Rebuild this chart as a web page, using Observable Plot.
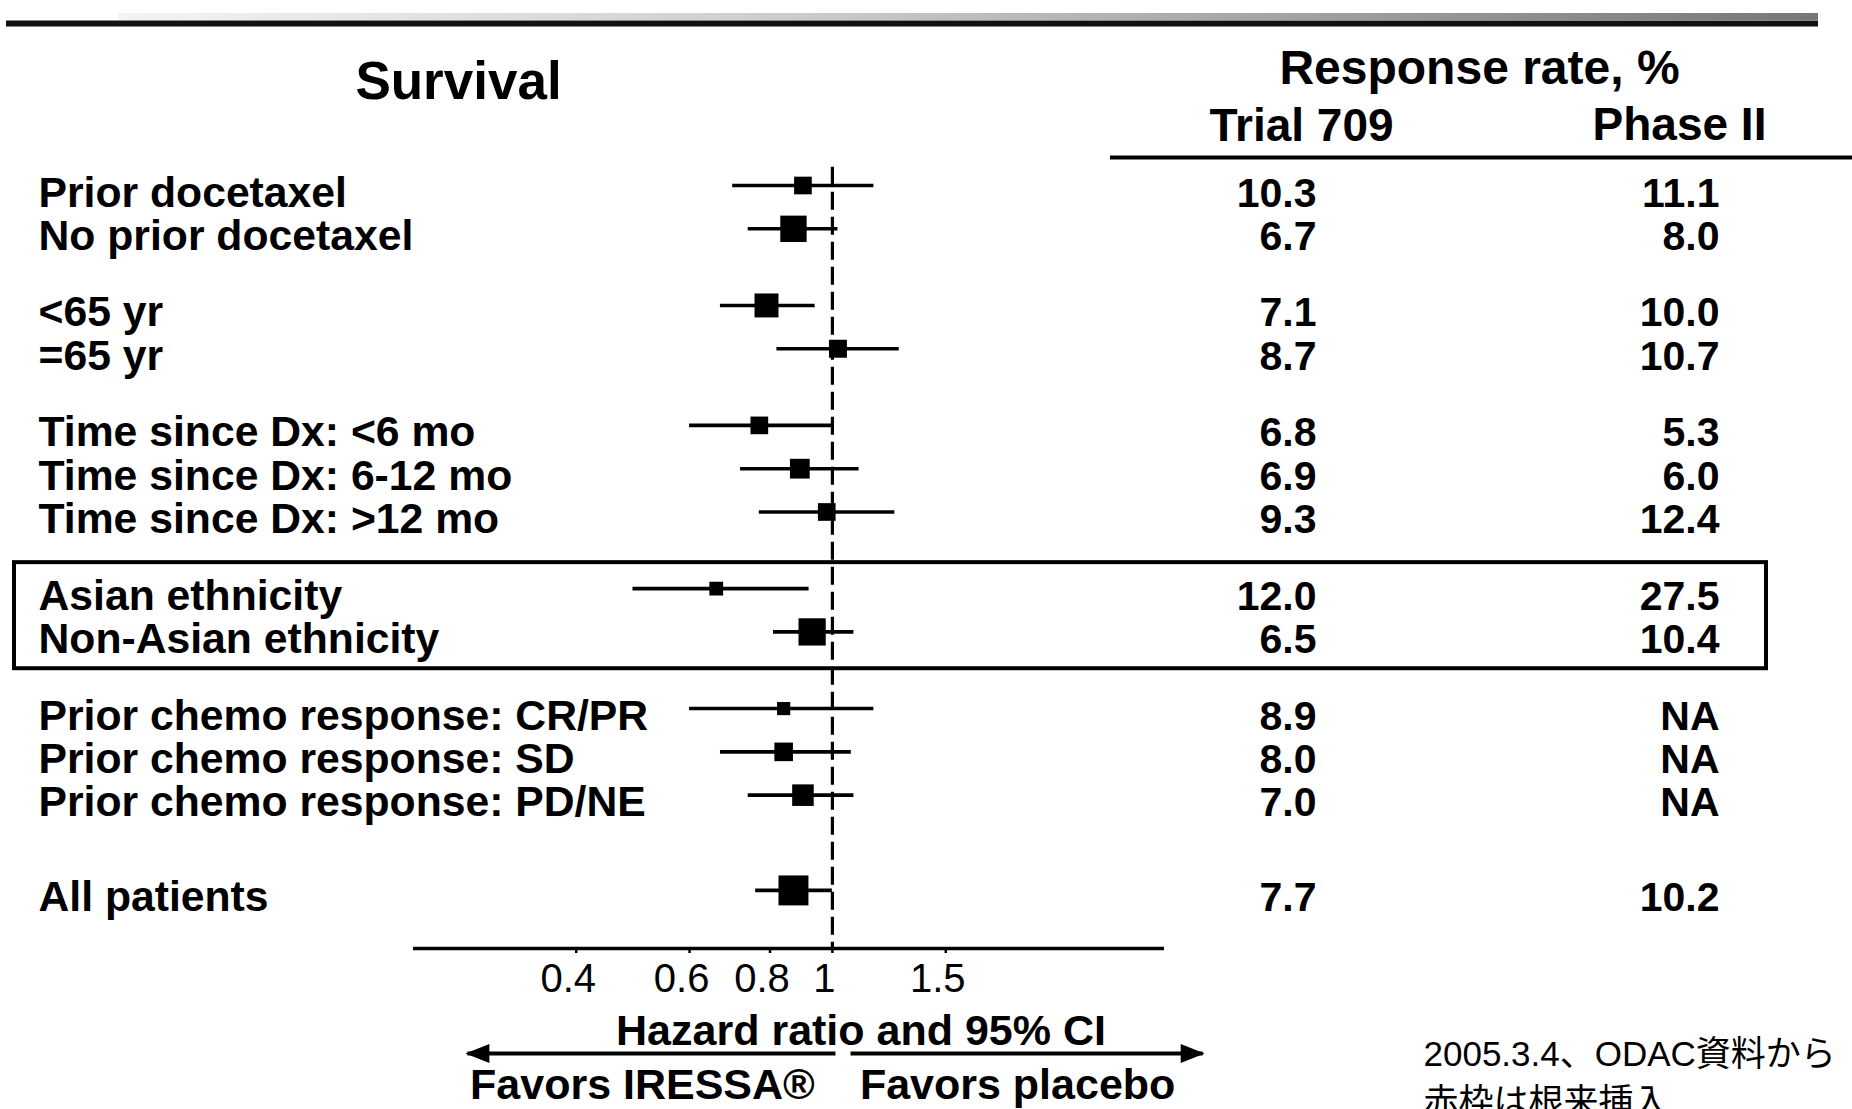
<!DOCTYPE html>
<html>
<head>
<meta charset="utf-8">
<script src="https://cdn.jsdelivr.net/npm/d3@7"></script>
<script src="https://cdn.jsdelivr.net/npm/@observablehq/plot@0.6"></script>
<style>
  html, body { margin: 0; padding: 0; background: #fff; overflow: hidden; }
  #chart { position: relative; width: 1852px; height: 1109px; }
  #chart svg { position: absolute; left: 0; top: 0; max-width: none; }
</style>
</head>
<body>
<div id="chart"></div>
<script>
// ---------------- data ----------------
const labels = [
  "Prior docetaxel", "No prior docetaxel",
  "<65 yr", "=65 yr",
  "Time since Dx: <6 mo", "Time since Dx: 6-12 mo", "Time since Dx: >12 mo",
  "Asian ethnicity", "Non-Asian ethnicity",
  "Prior chemo response: CR/PR", "Prior chemo response: SD", "Prior chemo response: PD/NE",
  "All patients"
];
const groups = ["docetaxel", "docetaxel", "age", "age", "time", "time", "time",
  "ethnicity", "ethnicity", "chemo", "chemo", "chemo", "all"];
const hazardRatio = [0.90, 0.87, 0.79, 1.02, 0.77, 0.89, 0.98, 0.66, 0.93, 0.84, 0.84, 0.90, 0.87];
const ciLower     = [0.70, 0.74, 0.67, 0.82, 0.60, 0.72, 0.77, 0.49, 0.81, 0.60, 0.67, 0.74, 0.76];
const ciUpper     = [1.16, 1.02, 0.94, 1.27, 1.00, 1.10, 1.25, 0.92, 1.08, 1.16, 1.07, 1.08, 1.00];
const boxWeight   = [59, 88, 80, 60, 59, 66, 59, 46, 91, 44, 62, 72, 100];
const trial709    = [10.3, 6.7, 7.1, 8.7, 6.8, 6.9, 9.3, 12.0, 6.5, 8.9, 8.0, 7.0, 7.7];
const phaseII     = [11.1, 8.0, 10.0, 10.7, 5.3, 6.0, 12.4, 27.5, 10.4, null, null, null, 10.2];
const highlightGroup = "ethnicity";
const columns = ["Trial 709", "Phase II"];
const xTicks = [0.4, 0.6, 0.8, 1, 1.5];
const xTickLabels = ["0.4", "0.6", "0.8", "1", "1.5"];
const favors = [
  {label: "Favors IRESSA\u00AE", from: 1.011, to: 0.271},
  {label: "Favors placebo", from: 1.067, to: 3.76}
];
const titleLeft = "Survival";
const titleRight = "Response rate, %";
const axisTitle = "Hazard ratio and 95% CI";
const note = "2005.3.4\u3001ODAC\u8CC7\u6599\u304B\u3089\n\u8D64\u67A0\u306F\u6839\u6765\u633F\u5165";

// ---------------- layout ----------------
const W = 1852, H = 1109;
const ROW0 = 185, STEP = 43.3, GROUP_GAP = 0.77, LAST_GAP = 1.2;
const FRAME_L = 413, FRAME_R = 1164, AXIS_Y = 948;
const FONT = "'Liberation Sans', Arial, Helvetica, sans-serif";
const pxToSlot = px => (px - ROW0) / STEP;
const yScale = {domain: [pxToSlot(0), pxToSlot(H)], range: [0, H], axis: null};

let s = -1;
const rows = labels.map((label, i) => {
  s += 1;
  if (i > 0 && groups[i] !== groups[i - 1]) s += groups[i] === "all" ? LAST_GAP : GROUP_GAP;
  return {label, group: groups[i], slot: s, hr: hazardRatio[i], lo: ciLower[i], hi: ciUpper[i],
          w: boxWeight[i], t709: trial709[i], p2: phaseII[i]};
});
const cells = rows.flatMap(r => [
  {col: columns[0], slot: r.slot, text: r.t709 == null ? "NA" : r.t709.toFixed(1)},
  {col: columns[1], slot: r.slot, text: r.p2 == null ? "NA" : r.p2.toFixed(1)}
]);
const hl = rows.filter(r => r.group === highlightGroup);
const box = [{y1: d3.min(hl, r => r.slot) - 0.6, y2: d3.max(hl, r => r.slot) + 0.85}];
const axisSlot = pxToSlot(AXIS_Y);
const arrowSlot = pxToSlot(1053);
const ticks = xTicks.map((v, i) => ({v, label: xTickLabels[i]}));

const headLeft = {draw(ctx) { ctx.moveTo(-2, 0); ctx.lineTo(22, -9.5); ctx.lineTo(22, 9.5); ctx.closePath(); }};
const headRight = {draw(ctx) { ctx.moveTo(2, 0); ctx.lineTo(-22, -9.5); ctx.lineTo(-22, 9.5); ctx.closePath(); }};

// ---------------- table / page layer ----------------
const table = Plot.plot({
  width: W, height: H, marginLeft: 0, marginRight: 0, marginTop: 0, marginBottom: 0,
  style: {background: "#fff", fontFamily: FONT, color: "#000"},
  x: {type: "point", domain: columns, range: [1316, 1719], padding: 0, axis: null},
  y: yScale,
  marks: [
    Plot.ruleY([pxToSlot(16)], {stroke: "url(#topbarGrad)", strokeWidth: 7, insetLeft: 118, insetRight: 34}),
    Plot.ruleY([pxToSlot(23)], {stroke: "#111", strokeWidth: 6, insetLeft: 6, insetRight: 34}),
    Plot.text([titleLeft], {frameAnchor: "top-left", dx: 458, dy: 98, textAnchor: "middle", lineAnchor: "bottom",
      fontSize: 53, fontWeight: "bold"}),
    Plot.text([titleRight], {frameAnchor: "top-left", dx: 1479, dy: 83, textAnchor: "middle", lineAnchor: "bottom",
      fontSize: 48, fontWeight: "bold"}),
    Plot.text([columns[0]], {x: d => d, frameAnchor: "top", dx: -15, dy: 140, textAnchor: "middle", lineAnchor: "bottom",
      fontSize: 46, fontWeight: "bold"}),
    Plot.text([columns[1]], {x: d => d, frameAnchor: "top", dx: -40, dy: 139, textAnchor: "middle", lineAnchor: "bottom",
      fontSize: 46, fontWeight: "bold"}),
    Plot.ruleY([pxToSlot(157)], {stroke: "#000", strokeWidth: 4, insetLeft: 1110}),
    Plot.rect(box, {y1: "y1", y2: "y2", insetLeft: 14, insetRight: 86, fill: "none", stroke: "#000", strokeWidth: 4}),
    Plot.text(rows, {text: "label", y: "slot", frameAnchor: "left", dx: 38, dy: 21, textAnchor: "start",
      lineAnchor: "bottom", fontSize: 42.7, fontWeight: "bold"}),
    Plot.text(cells, {text: "text", x: "col", y: "slot", dy: 21, textAnchor: "end", lineAnchor: "bottom",
      fontSize: 41, fontWeight: "bold"}),
    Plot.text([note], {frameAnchor: "bottom-left", dx: 1423, dy: 4, textAnchor: "start", lineAnchor: "bottom",
      lineHeight: 1.35, fontSize: 35, fontFamily: "'Liberation Sans', 'Noto Sans CJK JP', sans-serif"})
  ]
});
const ns = "http://www.w3.org/2000/svg";
const defs = document.createElementNS(ns, "defs");
const grad = document.createElementNS(ns, "linearGradient");
grad.setAttribute("id", "topbarGrad");
grad.setAttribute("gradientUnits", "userSpaceOnUse");
grad.setAttribute("x1", "118"); grad.setAttribute("y1", "0");
grad.setAttribute("x2", "1818"); grad.setAttribute("y2", "0");
[["0", "#f4f4f4"], ["0.4", "#cccccc"], ["1", "#777777"]].forEach(([o, c]) => {
  const st = document.createElementNS(ns, "stop");
  st.setAttribute("offset", o); st.setAttribute("stop-color", c);
  grad.appendChild(st);
});
defs.appendChild(grad);
table.insertBefore(defs, table.firstChild);

// ---------------- forest layer ----------------
const forest = Plot.plot({
  width: W, height: H, marginLeft: FRAME_L, marginRight: W - FRAME_R, marginTop: 0, marginBottom: H - AXIS_Y,
  style: {background: "none", fontFamily: FONT, color: "#000"},
  x: {type: "log", domain: [0.2235, 3.28], axis: null},
  y: yScale,
  r: {type: "linear", domain: [0, 100], range: [0, 16.9]},
  marks: [
    Plot.ruleX([1], {y1: rows[0].slot - 0.42, y2: axisSlot, stroke: "#000", strokeWidth: 3.2, strokeDasharray: "18,7"}),
    Plot.ruleY(rows, {y: "slot", x1: "lo", x2: "hi", stroke: "#000", strokeWidth: 3.6}),
    Plot.dot(rows, {x: "hr", y: "slot", r: "w", symbol: "square", fill: "#000"}),
    Plot.ruleY([axisSlot], {stroke: "#000", strokeWidth: 3.5}),
    Plot.ruleX(ticks, {x: "v", y1: axisSlot, y2: axisSlot + 5 / STEP, stroke: "#000", strokeWidth: 2.5}),
    Plot.text(ticks, {x: "v", text: "label", y: axisSlot, dx: -8, dy: 43, textAnchor: "middle", lineAnchor: "bottom",
      fontSize: 40, fontWeight: "normal"}),
    Plot.text([axisTitle], {frameAnchor: "bottom", dx: 72, dy: 96, textAnchor: "middle", lineAnchor: "bottom",
      fontSize: 43, fontWeight: "bold"}),
    Plot.link(favors, {x1: "from", x2: "to", y1: arrowSlot, y2: arrowSlot, stroke: "#000", strokeWidth: 4}),
    Plot.dot(favors.slice(0, 1), {x: "to", y: arrowSlot, symbol: headLeft, fill: "#000"}),
    Plot.dot(favors.slice(1), {x: "to", y: arrowSlot, symbol: headRight, fill: "#000"}),
    Plot.text(favors, {text: "label", x: d => Math.sqrt(d.from * d.to), y: arrowSlot, dx: -9, dy: 45,
      textAnchor: "middle", lineAnchor: "bottom", fontSize: 43, fontWeight: "bold"})
  ]
});

const chart = document.getElementById("chart");
chart.appendChild(table);
chart.appendChild(forest);
</script>
</body>
</html>
